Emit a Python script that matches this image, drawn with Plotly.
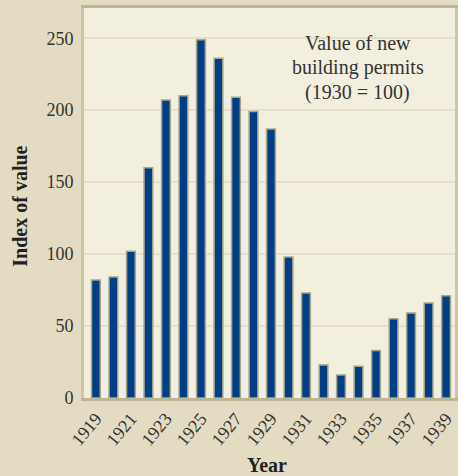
import plotly.graph_objects as go

years = list(range(1919, 1940))
values = [82, 84, 102, 160, 207, 210, 249, 236, 209, 199, 187,
          98, 73, 23, 16, 22, 33, 55, 59, 66, 71]
tick_years = list(range(1919, 1940, 2))
tick_labels = [str(y) for y in tick_years]
y_ticks = [0, 50, 100, 150, 200, 250]
note_lines = ["Value of new", "building permits", "(1930 = 100)"]
note_y = [246.5, 230, 212.5]

FONT = "Liberation Serif"
TXT = "#333333"

fig = go.Figure(go.Bar(
    x=years, y=values, width=0.5,
    marker=dict(color="#003f87", line=dict(color="#aaa488", width=1.5)),
))

annotations = [
    dict(x=1933.96, y=yy, xref="x", yref="y", text=t, showarrow=False,
         xanchor="center", yanchor="middle",
         font=dict(family=FONT, size=20, color=TXT))
    for t, yy in zip(note_lines, note_y)
]
annotations += [
    dict(x=0.492, y=-0.172, xref="paper", yref="paper", text="<b>Year</b>",
         showarrow=False, xanchor="center", yanchor="middle",
         font=dict(family=FONT, size=20, color="#222222")),
    dict(x=-0.171, y=0.492, xref="paper", yref="paper", text="<b>Index of value</b>",
         showarrow=False, xanchor="center", yanchor="middle", textangle=-90,
         font=dict(family=FONT, size=20, color="#222222")),
]

fig.update_layout(
    width=458, height=476,
    margin=dict(l=84, r=0, t=8, b=78),
    paper_bgcolor="#e4dcc2",
    plot_bgcolor="#f2efdf",
    showlegend=False,
    font=dict(family=FONT, color=TXT, size=18),
    xaxis=dict(
        range=[1918.32, 1939.51],
        tickvals=tick_years, ticktext=tick_labels,
        tickangle=-50, tickfont=dict(size=18, color=TXT),
        showgrid=False, zeroline=False,
        showline=True, linecolor="#bcb594", linewidth=3, mirror=True,
        ticks="", ticklen=0,
    ),
    yaxis=dict(
        range=[0, 271],
        tickvals=y_ticks,
        tickfont=dict(size=18, color=TXT),
        showgrid=True, gridcolor="#e6dfc6", gridwidth=1.5,
        zeroline=False,
        showline=True, linecolor="#cfc7a4", linewidth=3, mirror=True,
        ticks="", ticklen=0, ticklabelstandoff=4,
    ),
    annotations=annotations,
)

fig.write_html(
    "out.html",
    config={"displayModeBar": False},
    post_script="document.body.style.margin='0';document.body.style.background='#e4dcc2';",
)
